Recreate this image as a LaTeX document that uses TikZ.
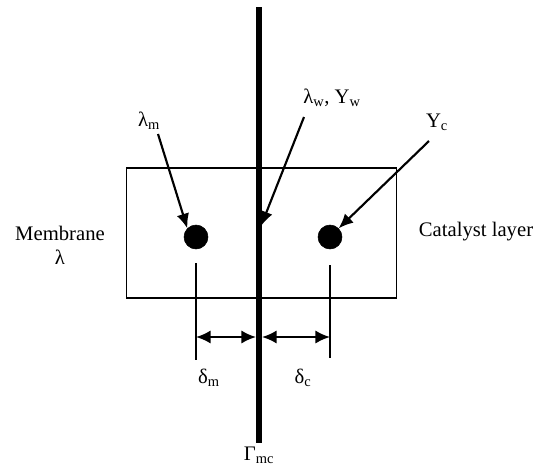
\documentclass[tikz,border=0pt]{standalone}
\usepackage{fontspec}
\setmainfont{Liberation Serif}
\usetikzlibrary{arrows.meta}
\tikzset{
  lbl/.style   ={font=\fontsize{15.5}{18}\selectfont, inner sep=1pt, align=center},
  dot/.style   ={draw, circle, fill=black, minimum size=18pt, inner sep=0pt},
  layer/.style ={draw, rectangle, line width=0.9pt, minimum width=203pt, minimum height=97.5pt},
  wall/.style  ={line width=4.5pt},
  tick/.style  ={line width=0.9pt},
  arr/.style   ={-{Latex[length=11pt,width=9.5pt]}, line width=1.6pt},
  dim/.style   ={{Latex[length=11pt,width=10pt]}-{Latex[length=11pt,width=10pt]}, line width=1.6pt},
}
\begin{document}
\begin{tikzpicture}[x=0.75pt, y=-0.75pt]
  \useasboundingbox (0,0) rectangle (538,472);
  % domain box and the interface
  \node[layer] (box) at (261.5,233) {};
  \coordinate (top) at (259,7);
  \coordinate (bot) at (259,443);
  \draw[wall] (top) -- (bot);
  \node[lbl, below=2pt] (gam) at (bot) {Γ\textsubscript{mc}};

  % the two points
  \node[dot] (dm) at (196,237) {};
  \node[dot] (dc) at (330,237) {};

  % labels with arrows
  \node[lbl] (lm) at (149,121) {λ\textsubscript{m}};
  \node[lbl] (lw) at (332,98)  {λ\textsubscript{w}, Y\textsubscript{w}};
  \node[lbl] (yc) at (437,122) {Y\textsubscript{c}};
  \coordinate (wtip) at (261,226);
  \draw[arr] (158,134) -- (dm.north west);
  \draw[arr] (304,117) -- (wtip);
  \draw[arr] (429,141) -- (dc.north east);

  % side texts
  \node[lbl] (mem) at (60,245) {Membrane\\λ};
  \node[lbl] (cat) at (476,232) {Catalyst layer};

  % distances to the interface
  \coordinate (mt) at (196,263);
  \coordinate (mb) at (196,360);
  \coordinate (ct) at (330,265);
  \coordinate (cb) at (330,358);
  \draw[tick] (mt) -- (mb);
  \draw[tick] (ct) -- (cb);
  \coordinate (ma) at (196,337);
  \coordinate (mz) at (256,337);
  \coordinate (ca) at (262,337);
  \coordinate (cz) at (330,337);
  \draw[dim] (ma) -- (mz);
  \draw[dim] (ca) -- (cz);
  \node[lbl] (dlm) at (209,378) {δ\textsubscript{m}};
  \node[lbl] (dlc) at (303,378) {δ\textsubscript{c}};
\end{tikzpicture}
\end{document}
